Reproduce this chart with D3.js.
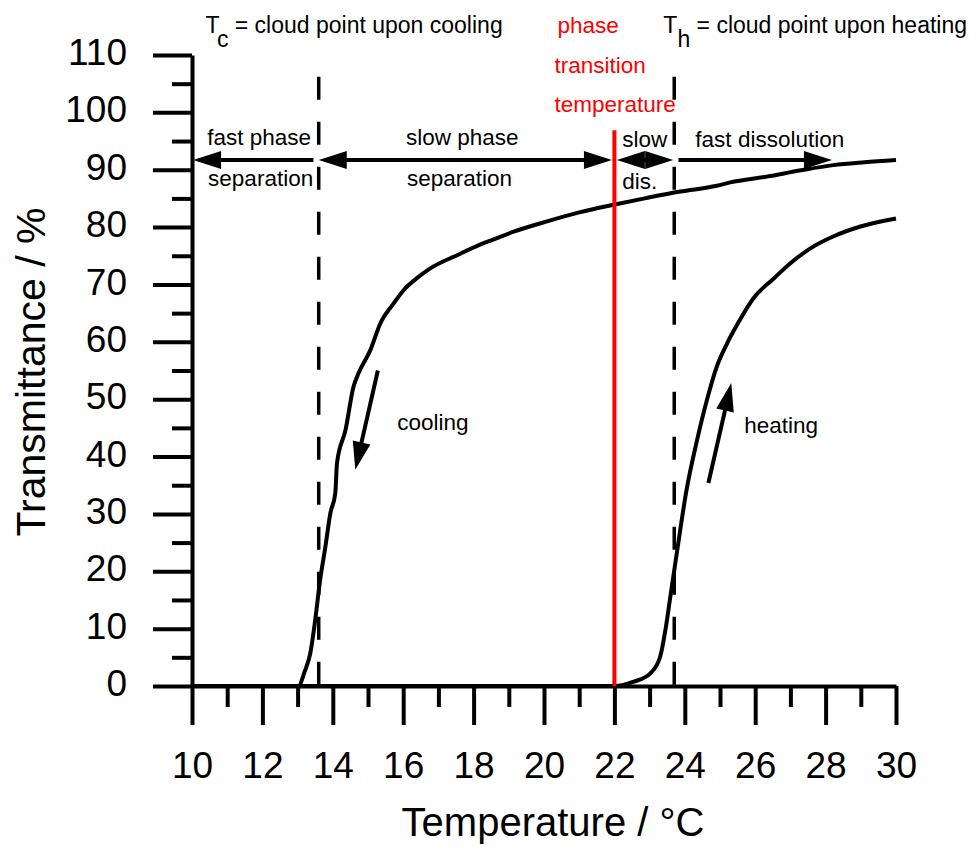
<!DOCTYPE html>
<html>
<head>
<meta charset="utf-8">
<script src="https://cdn.jsdelivr.net/npm/d3@7"></script>
<style>
  body { margin: 0; background: #fff; }
  svg { display: block; font-family: "Liberation Sans", Arial, sans-serif; }
</style>
</head>
<body>
<svg id="chart" width="969" height="847"></svg>
<script>
// cooling trace (upper curve)
const coolTemp = [10, 12.9, 13.02, 13.2, 13.36, 13.5, 13.64, 13.79, 13.93, 14.07, 14.12, 14.36, 14.59, 14.73, 15.07, 15.35, 15.73, 16.01, 16.39, 16.77, 17.53, 18.2, 18.5, 19.14, 20.09, 21.03, 21.98, 22.93, 23.87, 24.91, 25.29, 26.33, 27.3, 28.22, 29.1, 30];
const coolTrans = [0, 0, 0, 2.5, 5.7, 11.5, 18.5, 24.3, 30.1, 33.6, 38.9, 44.6, 52.2, 54.5, 58.6, 63.2, 66.7, 69.0, 71.1, 72.8, 75.1, 77.0, 77.7, 79.2, 81.0, 82.6, 83.9, 85.1, 86.2, 87.2, 87.8, 88.8, 89.9, 90.8, 91.3, 91.7];

// heating trace (lower curve)
const heatTemp = [10, 22, 22.55, 23.02, 23.3, 23.45, 23.59, 23.73, 23.87, 24.03, 24.35, 24.63, 24.91, 25.2, 25.48, 25.95, 26.52, 27.0, 27.57, 28.23, 28.99, 30];
const heatTrans = [0, 0, 0.75, 2.2, 5.1, 9.8, 15.6, 21.4, 27.2, 33.5, 42.9, 49.9, 55.7, 59.7, 62.9, 67.6, 71.0, 73.7, 76.3, 78.4, 80.1, 81.5];

const xTicks = [10, 12, 14, 16, 18, 20, 22, 24, 26, 28, 30];
const xMinor = [11, 13, 15, 17, 19, 21, 23, 25, 27, 29];
const yTicks = [0, 10, 20, 30, 40, 50, 60, 70, 80, 90, 100, 110];
const yMinor = [5, 15, 25, 35, 45, 55, 65, 75, 85, 95, 105];

// marker temperatures
const Tc = 13.6, Th = 23.7, Ttrans = 22.0;
const dashTop = 106.2, redTop = 96.9;

// horizontal range arrows at 91.7 %
const arrowLevel = 91.7;
const rangeArrows = [
  {from: 13.45, to: 10.03, headFrom: false, headTo: true},
  {from: 13.6, to: 21.93, headFrom: true, headTo: true},
  {from: 22.07, to: 23.67, headFrom: true, headTo: true},
  {from: 23.82, to: 28.18, headFrom: false, headTo: true}
];
// direction arrows next to curves [x0, y0, x1(tip), y1(tip)]
const dirArrows = [
  [15.28, 55.0, 14.64, 37.7],
  [24.67, 35.4, 25.32, 52.8]
];

// labels: [text, temp, transmittance, anchor, color]
const labels = [
  ["fast phase", 11.91, 94.3, "middle", "#000"],
  ["separation", 11.95, 87.2, "middle", "#000"],
  ["slow phase", 17.68, 94.3, "middle", "#000"],
  ["separation", 17.6, 87.2, "middle", "#000"],
  ["slow", 22.22, 94.0, "start", "#000"],
  ["dis.", 22.22, 86.7, "start", "#000"],
  ["fast dissolution", 24.3, 93.9, "start", "#000"],
  ["phase", 20.38, 113.8, "start", "#ff0000"],
  ["transition", 20.3, 106.9, "start", "#ff0000"],
  ["temperature", 20.3, 100.0, "start", "#ff0000"],
  ["cooling", 15.83, 44.6, "start", "#000"],
  ["heating", 25.69, 44.1, "start", "#000"]
];

const svg = d3.select("#chart");
const x = d3.scaleLinear().domain([10, 30]).range([192, 896]);
const y = d3.scaleLinear().domain([0, 110]).range([686, 55]);

// minor ticks
svg.append("g").attr("transform", "translate(192,0)")
  .call(d3.axisLeft(y).tickValues(yMinor).tickSize(20).tickSizeOuter(0).tickFormat(""))
  .call(g => g.select(".domain").remove());
svg.append("g").attr("transform", "translate(0,686)")
  .call(d3.axisBottom(x).tickValues(xMinor).tickSize(21).tickSizeOuter(0).tickFormat(""))
  .call(g => g.select(".domain").remove());

// major axes
const yAxis = svg.append("g").attr("transform", "translate(192,0)")
  .call(d3.axisLeft(y).tickValues(yTicks).tickSize(39).tickSizeOuter(0).tickPadding(26));
const xAxis = svg.append("g").attr("transform", "translate(0,686)")
  .call(d3.axisBottom(x).tickValues(xTicks).tickSize(39).tickSizeOuter(0).tickPadding(27));

svg.selectAll(".tick line").attr("stroke", "#000").attr("stroke-width", 4);
svg.selectAll(".domain").attr("stroke", "#000").attr("stroke-width", 4);
svg.selectAll(".tick text").attr("font-size", 37).attr("fill", "#000")
  .attr("font-family", "Liberation Sans, Arial, sans-serif");
yAxis.selectAll(".tick text").attr("dy", "0.26em");

// axis titles
svg.append("text")
  .attr("x", 553).attr("y", 836)
  .attr("text-anchor", "middle").attr("font-size", 40)
  .text("Temperature / °C");
svg.append("text")
  .attr("transform", "translate(45,372) rotate(-90)")
  .attr("text-anchor", "middle").attr("font-size", 41)
  .text("Transmittance / %");

// dashed cloud point lines
svg.selectAll(".cloud")
  .data([Tc, Th])
  .join("line")
  .attr("x1", d => x(d)).attr("x2", d => x(d))
  .attr("y1", y(dashTop)).attr("y2", y(0))
  .attr("stroke", "#000").attr("stroke-width", 3.5)
  .attr("stroke-dasharray", "23,22");

// curves
const line = d3.line().x(d => x(d[0])).y(d => y(d[1])).curve(d3.curveMonotoneX);
const coolData = coolTemp.map((t, i) => [t, coolTrans[i]]);
const heatData = heatTemp.map((t, i) => [t, heatTrans[i]]);
[coolData, heatData].forEach(data => {
  svg.append("path").datum(data)
    .attr("d", line)
    .attr("fill", "none").attr("stroke", "#000")
    .attr("stroke-width", 4).attr("stroke-linejoin", "round");
});

// red transition line
svg.append("line")
  .attr("x1", x(Ttrans)).attr("x2", x(Ttrans))
  .attr("y1", y(redTop)).attr("y2", y(0))
  .attr("stroke", "#ff0000").attr("stroke-width", 4);

// arrow helpers
const headLen = 28, headHalf = 9;
function head(tx, ty, dx, dy) {
  // dx,dy unit vector pointing toward the tip
  const bx = tx - dx * headLen, by = ty - dy * headLen;
  const px = -dy * headHalf, py = dx * headHalf;
  return `M${tx},${ty}L${bx + px},${by + py}L${bx - px},${by - py}Z`;
}
function drawArrow(x0, y0, x1, y1, startHead, endHead) {
  const len = Math.hypot(x1 - x0, y1 - y0);
  const ux = (x1 - x0) / len, uy = (y1 - y0) / len;
  svg.append("line")
    .attr("x1", x0 + (startHead ? ux * headLen * 0.8 : 0))
    .attr("y1", y0 + (startHead ? uy * headLen * 0.8 : 0))
    .attr("x2", x1 - (endHead ? ux * headLen * 0.8 : 0))
    .attr("y2", y1 - (endHead ? uy * headLen * 0.8 : 0))
    .attr("stroke", "#000").attr("stroke-width", 4);
  if (endHead) svg.append("path").attr("d", head(x1, y1, ux, uy)).attr("fill", "#000");
  if (startHead) svg.append("path").attr("d", head(x0, y0, -ux, -uy)).attr("fill", "#000");
}
rangeArrows.forEach(a => drawArrow(x(a.from), y(arrowLevel), x(a.to), y(arrowLevel), a.headFrom, a.headTo));
dirArrows.forEach(a => drawArrow(x(a[0]), y(a[1]), x(a[2]), y(a[3]), false, true));

// labels
svg.selectAll(".lbl")
  .data(labels)
  .join("text")
  .attr("x", d => x(d[1])).attr("y", d => y(d[2]))
  .attr("text-anchor", d => d[3])
  .attr("fill", d => d[4])
  .attr("font-size", 22.5)
  .text(d => d[0]);

// cloud point definitions with subscripts
function cloudLabel(temp, sub, rest) {
  const t = svg.append("text")
    .attr("x", x(temp)).attr("y", y(113.8))
    .attr("font-size", 23);
  t.append("tspan").text("T");
  t.append("tspan").attr("dy", 14).text(sub);
  t.append("tspan").attr("dy", -14).text(" = " + rest);
}
cloudLabel(10.38, "c", "cloud point upon cooling");
cloudLabel(23.39, "h", "cloud point upon heating");
</script>
</body>
</html>
